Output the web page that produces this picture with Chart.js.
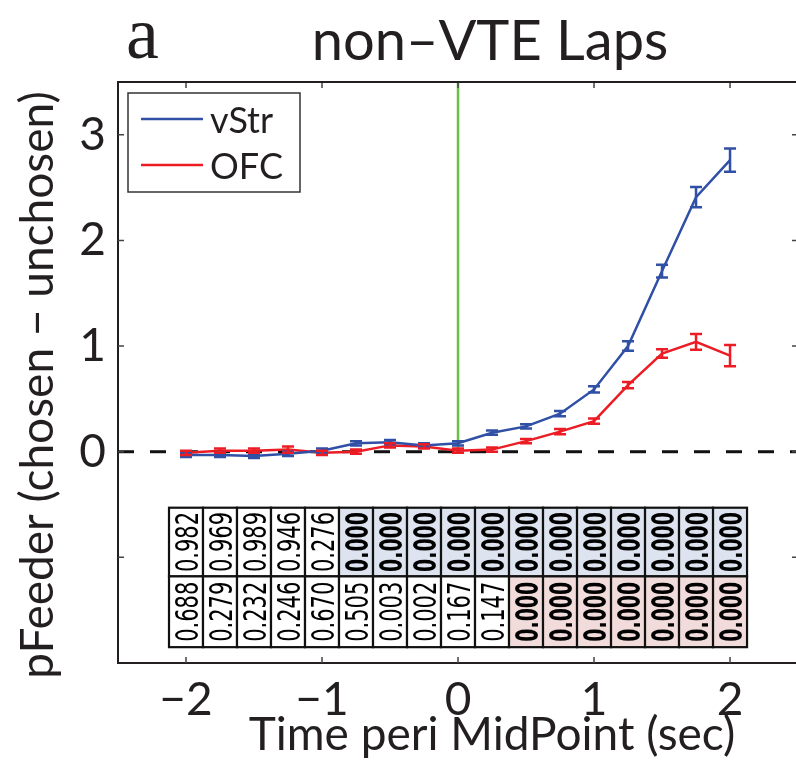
<!DOCTYPE html>
<html lang="en">
<head>
<meta charset="utf-8">
<title>non-VTE Laps</title>
<script src="https://cdn.jsdelivr.net/npm/chart.js@4.4.1/dist/chart.umd.min.js"></script>
<style type="text/css">
	html, body { margin: 0; padding: 0; background: #fff; }
	#chart { display: block; }
</style>
</head>
<body>
<canvas id="chart" width="796" height="764"></canvas>
<script type="text/javascript">
// time bins (sec, peri MidPoint)
var times = [-2, -1.75, -1.5, -1.25, -1, -0.75, -0.5, -0.25, 0, 0.25, 0.5, 0.75, 1, 1.25, 1.5, 1.75, 2];

// pFeeder (chosen - unchosen), mean and sem
var vStrMean = [-0.03, -0.03, -0.04, -0.02, 0.01, 0.08, 0.09, 0.06, 0.08, 0.18, 0.24, 0.36, 0.59, 1.00, 1.71, 2.41, 2.76];
var vStrErr  = [0.02, 0.02, 0.02, 0.02, 0.02, 0.02, 0.02, 0.02, 0.02, 0.02, 0.02, 0.025, 0.03, 0.045, 0.06, 0.095, 0.11];
var ofcMean  = [-0.01, 0.01, 0.01, 0.02, -0.01, 0.00, 0.06, 0.05, 0.01, 0.02, 0.10, 0.19, 0.29, 0.63, 0.93, 1.04, 0.91];
var ofcErr   = [0.02, 0.02, 0.02, 0.03, 0.02, 0.02, 0.02, 0.02, 0.02, 0.02, 0.02, 0.025, 0.025, 0.03, 0.04, 0.075, 0.1];

// p-values per bin
var vStrP = ["0.982", "0.969", "0.989", "0.946", "0.276", "0.000", "0.000", "0.000", "0.000", "0.000", "0.000", "0.000", "0.000", "0.000", "0.000", "0.000", "0.000"];
var ofcP  = ["0.688", "0.279", "0.232", "0.246", "0.670", "0.505", "0.003", "0.002", "0.167", "0.147", "0.000", "0.000", "0.000", "0.000", "0.000", "0.000", "0.000"];

var xTicks = [-2, -1, 0, 1, 2];
var yTicks = [-1, 0, 1, 2, 3];
var yLabelled = [0, 1, 2, 3];

var BLUE = "#3050a6", RED = "#ec1c24", GREEN = "#6cbf45", INK = "#231f20";
var AXFONT = "Lato";

function pts(ys){
	return times.map(function(t, i){ return {x: t, y: ys[i]}; });
}
function minus(v){
	return v < 0 ? "\u2212" + Math.abs(v) : String(v);
}

var overlay = {
	id: "overlay",
	afterDatasetsDraw: function(chart){
		var ctx = chart.ctx, xs = chart.scales.x, ys = chart.scales.y, a = chart.chartArea;
		ctx.save();

		// error bars
		[[vStrMean, vStrErr, BLUE], [ofcMean, ofcErr, RED]].forEach(function(s){
			ctx.strokeStyle = s[2];
			ctx.lineWidth = 2.5;
			times.forEach(function(t, i){
				var px = xs.getPixelForValue(t);
				var lo = ys.getPixelForValue(s[0][i] - s[1][i]);
				var hi = ys.getPixelForValue(s[0][i] + s[1][i]);
				ctx.beginPath();
				ctx.moveTo(px, lo); ctx.lineTo(px, hi);
				ctx.moveTo(px - 6, lo); ctx.lineTo(px + 6, lo);
				ctx.moveTo(px - 6, hi); ctx.lineTo(px + 6, hi);
				ctx.stroke();
			});
		});

		// p-value table
		var rows = [[vStrP, "#dde3ef", -0.53, -1.18], [ofcP, "#f2dcdb", -1.18, -1.85]];
		rows.forEach(function(r){
			var top = ys.getPixelForValue(r[2]), bot = ys.getPixelForValue(r[3]);
			times.forEach(function(t, i){
				var l = xs.getPixelForValue(t - 0.125), rr = xs.getPixelForValue(t + 0.125);
				var sig = parseFloat(r[0][i]) < 0.001;
				ctx.fillStyle = sig ? r[1] : "#fff";
				ctx.fillRect(l, top, rr - l, bot - top);
				ctx.strokeStyle = "#111";
				ctx.lineWidth = 2.2;
				ctx.strokeRect(l, top, rr - l, bot - top);
				ctx.save();
				ctx.translate((l + rr) / 2, (top + bot) / 2);
				ctx.rotate(-Math.PI / 2);
				ctx.scale(sig ? 0.9 : 1, 1.5);
				ctx.fillStyle = "#000";
				ctx.font = (sig ? "bold " : "") + "21px 'DejaVu Sans'";
				ctx.textAlign = "center";
				ctx.textBaseline = "alphabetic";
				ctx.fillText(r[0][i], 0, 7.7);
				ctx.restore();
			});
		});

		// inward ticks and top frame
		ctx.strokeStyle = "#444";
		ctx.lineWidth = 1.5;
		xTicks.forEach(function(v){
			var px = xs.getPixelForValue(v);
			ctx.beginPath();
			ctx.moveTo(px, a.bottom); ctx.lineTo(px, a.bottom - 6);
			ctx.moveTo(px, a.top); ctx.lineTo(px, a.top + 6);
			ctx.stroke();
		});
		yTicks.forEach(function(v){
			var py = ys.getPixelForValue(v);
			ctx.beginPath();
			ctx.moveTo(a.left, py); ctx.lineTo(a.left + 6, py);
			ctx.moveTo(a.right + 2, py); ctx.lineTo(a.right - 4, py);
			ctx.stroke();
		});
		ctx.strokeStyle = INK;
		ctx.lineWidth = 2;
		ctx.beginPath();
		ctx.moveTo(a.left, a.top); ctx.lineTo(a.right + 2, a.top);
		ctx.stroke();

		// legend
		var lx = a.left + 10, ly = a.top + 11;
		ctx.fillStyle = "#fff";
		ctx.fillRect(lx, ly, 172, 99);
		ctx.strokeStyle = "#333";
		ctx.lineWidth = 1.5;
		ctx.strokeRect(lx, ly, 172, 99);
		ctx.font = "36px " + AXFONT;
		ctx.textAlign = "left";
		ctx.textBaseline = "alphabetic";
		[0, 1].forEach(function(k){
			var ds = chart.data.datasets[k];
			var yy = ly + 26 + k * 46;
			ctx.strokeStyle = ds.borderColor;
			ctx.lineWidth = 2.5;
			ctx.beginPath();
			ctx.moveTo(lx + 13, yy); ctx.lineTo(lx + 75, yy);
			ctx.stroke();
			ctx.fillStyle = INK;
			ctx.fillText(ds.label, lx + 82, yy + 14);
		});
		ctx.restore();
	},
	afterDraw: function(chart){
		var ctx = chart.ctx;
		ctx.save();
		ctx.fillStyle = INK;
		ctx.textBaseline = "alphabetic";
		ctx.textAlign = "left";
		ctx.font = "74px 'Liberation Serif'";
		ctx.fillText("a", 126, 58);
		ctx.textAlign = "center";
		ctx.font = "56px " + AXFONT;
		ctx.fillText("non\u2013VTE Laps", 490, 60);
		ctx.font = "46px " + AXFONT;
		ctx.fillText("Time peri MidPoint (sec)", 492, 750);
		ctx.translate(53, 385);
		ctx.rotate(-Math.PI / 2);
		ctx.fillText("pFeeder (chosen \u2212 unchosen)", 0, 0);
		ctx.restore();
	}
};

new Chart(document.getElementById("chart"), {
	type: "line",
	data: {
		datasets: [
			{label: "vStr", data: pts(vStrMean), borderColor: BLUE, borderWidth: 2.5, pointRadius: 0, tension: 0},
			{label: "OFC", data: pts(ofcMean), borderColor: RED, borderWidth: 2.5, pointRadius: 0, tension: 0},
			{label: "zero", data: [{x: -2.5, y: 0}, {x: 2.5, y: 0}], borderColor: "#111", borderWidth: 3, borderDash: [16, 16], pointRadius: 0},
			{label: "midpoint", data: [{x: 0, y: 0}, {x: 0, y: 3.5}], borderColor: GREEN, borderWidth: 2.5, pointRadius: 0}
		]
	},
	options: {
		responsive: false,
		animation: false,
		layout: {padding: {top: 82, left: 0, right: 0, bottom: 0}},
		plugins: {legend: {display: false}, tooltip: {enabled: false}},
		scales: {
			x: {
				type: "linear", min: -2.5, max: 2.485,
				afterFit: function(s){ s.height = 101; },
				afterBuildTicks: function(s){ s.ticks = xTicks.map(function(v){ return {value: v}; }); },
				grid: {drawOnChartArea: false, drawTicks: false},
				border: {display: true, color: INK, width: 2},
				ticks: {
					padding: 10, color: INK, maxRotation: 0, autoSkip: false,
					font: {family: AXFONT, size: 46},
					callback: function(v){ return minus(v); }
				}
			},
			y: {
				min: -2, max: 3.5,
				afterFit: function(s){ s.width = 118; },
				afterBuildTicks: function(s){ s.ticks = yTicks.map(function(v){ return {value: v}; }); },
				grid: {drawOnChartArea: false, drawTicks: false},
				border: {display: true, color: INK, width: 2},
				ticks: {
					padding: 12, color: INK, autoSkip: false,
					font: {family: AXFONT, size: 46},
					callback: function(v){ return yLabelled.indexOf(v) >= 0 ? minus(v) : ""; }
				}
			}
		}
	},
	plugins: [overlay]
});
</script>
</body>
</html>
